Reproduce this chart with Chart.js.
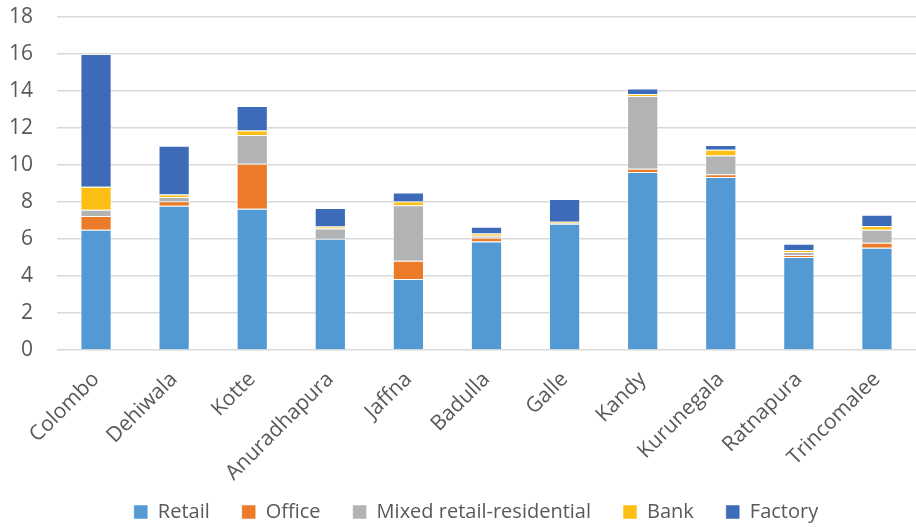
<!DOCTYPE html>
<html>
<head>
<meta charset="utf-8">
<script src="https://cdn.jsdelivr.net/npm/chart.js@4/dist/chart.umd.min.js"></script>
<style>
    html, body { margin: 0; padding: 0; background: #fff; }
    #wrap { width: 916px; height: 527px; }
</style>
</head>
<body>
<div id="wrap"><canvas id="chart"></canvas></div>
<script>
const cities = ["Colombo", "Dehiwala", "Kotte", "Anuradhapura", "Jaffna", "Badulla", "Galle", "Kandy", "Kurunegala", "Ratnapura", "Trincomalee"];

const retail = [6.5, 7.8, 7.64, 6.02, 3.84, 5.87, 6.83, 9.62, 9.35, 5.03, 5.53];
const office = [0.75, 0.24, 2.43, 0, 0.99, 0.2, 0, 0.18, 0.15, 0.11, 0.27];
const mixed = [0.33, 0.23, 1.55, 0.55, 3.0, 0.1, 0.03, 3.93, 1.02, 0.16, 0.7];
const bank = [1.25, 0.13, 0.25, 0.1, 0.2, 0.13, 0.07, 0.11, 0.31, 0.11, 0.2];
const factory = [7.17, 2.64, 1.32, 1.0, 0.48, 0.36, 1.23, 0.29, 0.25, 0.34, 0.61];

const yTicks = [0, 2, 4, 6, 8, 10, 12, 14, 16, 18];

const fontFamily = "'Open Sans', 'Liberation Sans', sans-serif";
const textColor = '#595959';

const series = [
    { label: 'Retail', data: retail, color: '#5399d4' },
    { label: 'Office', data: office, color: '#eb7b28' },
    { label: 'Mixed retail-residential', data: mixed, color: '#b2b3b4' },
    { label: 'Bank', data: bank, color: '#fdbf13' },
    { label: 'Factory', data: factory, color: '#3d6bb7' }
];

// nudge the legend right so it sits under the plot like the original,
// and let the long rotated city names run down past the axis box
const layoutTweaks = {
    id: 'layoutTweaks',
    afterLayout: (chart) => {
        chart.legend.left += 18;
        chart.legend.right += 18;
        chart.scales.x.bottom = chart.height;
    }
};

let config = {
    type: 'bar',
    data: {
        labels: cities,
        datasets: series.map(s => ({
            label: s.label,
            data: s.data,
            backgroundColor: s.color,
            borderColor: 'rgba(255,255,255,0.5)',
            borderWidth: 1,
            categoryPercentage: 1,
            barPercentage: 0.4
        }))
    },
    plugins: [layoutTweaks],
    options: {
        responsive: true,
        maintainAspectRatio: false,
        animation: false,
        layout: {
            padding: { top: 0, right: 0, left: 0, bottom: -5 }
        },
        plugins: {
            legend: {
                display: true,
                position: 'bottom',
                labels: {
                    color: textColor,
                    font: { family: fontFamily, size: 20 },
                    boxWidth: 14,
                    boxHeight: 14,
                    padding: 32
                }
            },
            tooltip: { enabled: false }
        },
        scales: {
            x: {
                stacked: true,
                grid: { display: false },
                border: { display: false },
                afterFit: (scale) => {
                    scale.paddingLeft = 0;
                    scale.paddingRight = 0;
                    scale.height = 120;
                },
                ticks: {
                    color: textColor,
                    font: { family: fontFamily, size: 21 },
                    maxRotation: 45,
                    minRotation: 45,
                    padding: 9
                }
            },
            y: {
                stacked: true,
                min: 0,
                max: 18,
                afterBuildTicks: (axis) => {
                    axis.ticks = yTicks.map(v => ({ value: v }));
                },
                afterFit: (scale) => {
                    scale.width = 57;
                    scale.paddingTop = 17;
                    scale.paddingBottom = 0;
                },
                grid: { color: '#d9d9d9', lineWidth: 1.5, drawTicks: false },
                border: { display: false },
                ticks: {
                    color: textColor,
                    font: { family: fontFamily, size: 21 },
                    padding: 24
                }
            }
        }
    }
};

new Chart(document.getElementById('chart'), config);
</script>
</body>
</html>
